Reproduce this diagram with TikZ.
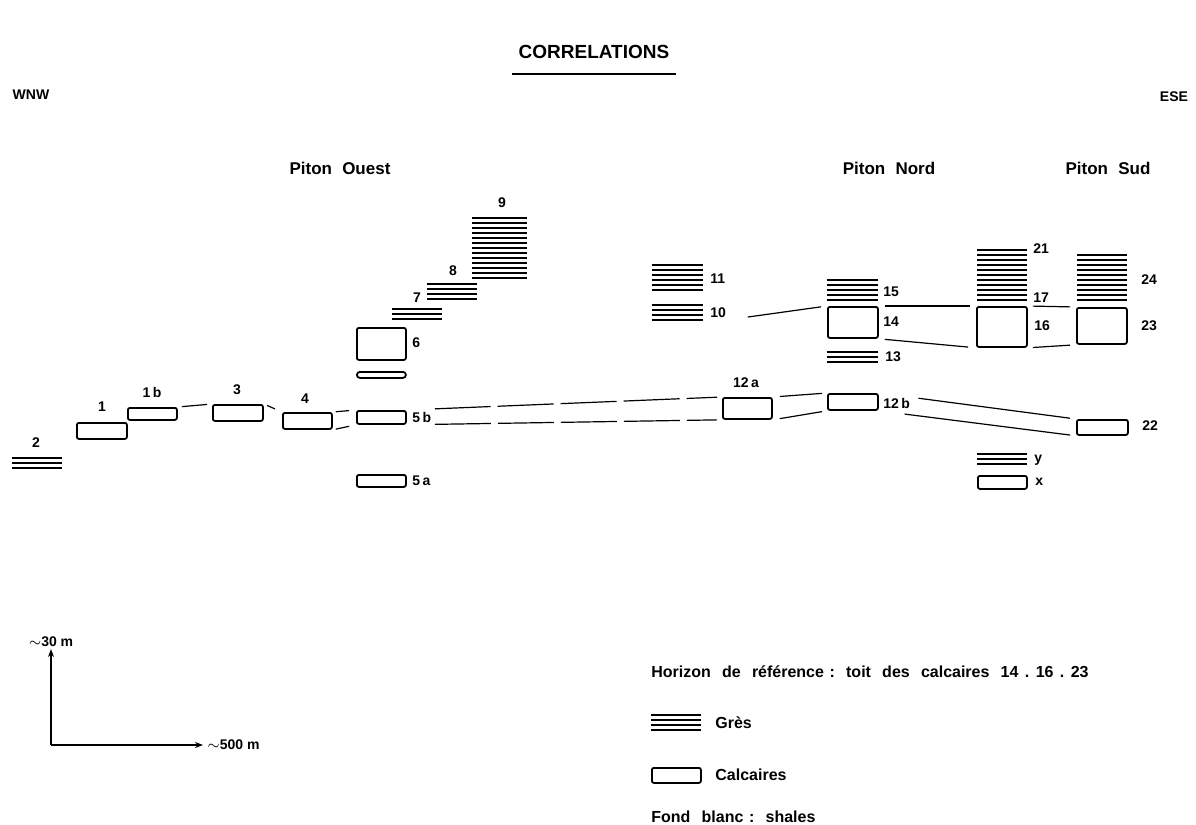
\documentclass[tikz,border=0pt]{standalone}
\usepackage{fontspec}
\setmainfont{Liberation Sans}
\usetikzlibrary{arrows.meta, positioning, calc}

\begin{document}
\begin{tikzpicture}[
        x=0.5pt, y=-0.5pt,
        font=\bfseries\fontsize{7}{8}\selectfont,
        calcaire/.style={
            rectangle,
            draw,
            line width=0.9pt,
            rounded corners=1pt,
            inner sep=0pt,
            anchor=north west
        },
        gresbox/.style={
            rectangle,
            inner sep=0pt,
            minimum width=24.5pt,
            anchor=north west
        },
        gresline/.style={line width=0.9pt},
        lien/.style={line width=0.6pt, shorten <=2pt, shorten >=2.5pt},
        lab/.style={anchor=west, inner sep=0pt},
        piton/.style={font=\bfseries\fontsize{8.5}{10}\selectfont},
        legende/.style={anchor=west, inner sep=0pt, font=\bfseries\fontsize{8}{9}\selectfont}
    ]
    \useasboundingbox (0,0) rectangle (1196,825);

    % Title and orientation
    \node[font=\bfseries\fontsize{9.5}{11}\selectfont] (title) at (594,52) {CORRELATIONS};
    \draw[line width=0.9pt] ([yshift=-4pt]title.south west) -- ([yshift=-4pt]title.south east);
    \node (wnw) at (31,95) {WNW};
    \node (ese) at (1174,97) {ESE};
    \node[piton] (pouest) at (340,168) {Piton\hspace{0.6em}Ouest};
    \node[piton] (pnord) at (889,168) {Piton\hspace{0.6em}Nord};
    \node[piton] (psud) at (1108,168) {Piton\hspace{0.6em}Sud};

    % Gres (sandstone) units: name / left / top / lines / width
    \foreach \nm/\x/\y/\n/\w in {u2/12/455.5/3/49, u7/392/306.5/3/49, u8/427/281.5/4/49,
            u9/472/215.5/13/54, u11/652/262.5/6/50, u10/652/302.5/4/50,
            u15/827/277.5/5/50, u13/827/349.5/3/50, u21/977/247.5/11/49,
            u24/1077/252.5/10/49, uy/977/451.5/3/49, legres/651/712.5/4/49} {
        \node[gresbox, minimum width=\w*0.5pt, minimum height=\n*2.5pt] (\nm) at (\x,\y) {};
        \foreach \k in {1,...,\n}
            \draw[gresline] ([yshift={-(\k-0.5)*2.5pt}]\nm.north west) -- ([yshift={-(\k-0.5)*2.5pt}]\nm.north east);
    }

    % Calcaire (limestone) units: name / left / top / right / bottom
    \foreach \nm/\xa/\ya/\xb/\yb in {u1/76/422/126/438, u1b/127/407/176/419, u3/212/404/262/420,
            u4/282/412/331/428, u5b/356/410/405/423, u5a/356/474/405/486, u6/356/327/405/359,
            u12a/722/397/771/418, u12b/827/393/877/409, u14/827/306/877/337,
            u16/976/306/1026/346, u23/1076/307/1126/343, u22/1076/419/1127/434,
            ux/977/475/1026/488, lecalc/651/767/700/782} {
        \node[calcaire, minimum width={(\xb-\xa)*0.5pt}, minimum height={(\yb-\ya)*0.5pt}] (\nm) at (\xa,\ya) {};
    }
    \node[calcaire, rounded corners=1.5pt, minimum width=24.5pt, minimum height=3pt] (uthin) at (356,371) {};

    % Unit labels
    \node (lab2) at (36,443) {2};
    \node (lab1) at (102,407) {1};
    \node (lab1b) at (152,392) {1\,b};
    \node (lab3) at (237,390) {3};
    \node (lab4) at (305,399) {4};
    \node[lab] (lab5b) at (412,417) {5\,b};
    \node[lab] (lab5a) at (412,481) {5\,a};
    \node[lab] (lab6) at (412,343) {6};
    \node (lab7) at (417,298) {7};
    \node (lab8) at (453,271) {8};
    \node (lab9) at (502,203) {9};
    \node[lab] (lab11) at (710,279) {11};
    \node[lab] (lab10) at (710,313) {10};
    \node (lab12a) at (746,383) {12\,a};
    \node[lab] (lab15) at (883,292) {15};
    \node[lab] (lab14) at (883,322) {14};
    \node[lab] (lab13) at (885,357) {13};
    \node[lab] (lab12b) at (883,403) {12\,b};
    \node[lab] (lab21) at (1033,249) {21};
    \node[lab] (lab17) at (1033,298) {17};
    \node[lab] (lab16) at (1034,326) {16};
    \node[lab] (lab24) at (1141,280) {24};
    \node[lab] (lab23) at (1141,326) {23};
    \node[lab] (lab22) at (1142,426) {22};
    \node[lab] (laby) at (1034,460) {y};
    \node[lab] (labx) at (1035,482) {x};

    % Correlation lines
    \draw[lien] (u1b.north east) -- (u3.north west);
    \draw[lien, shorten <=1.8pt, shorten >=3.8pt] (u3.north east) -- (u4.north west);
    \draw[lien, shorten <=1.5pt, shorten >=3.5pt] (u4.north east) -- (u5b.north west);
    \draw[lien, shorten <=1.5pt, shorten >=3.5pt] (u4.south east) -- (u5b.south west);
    \draw[lien, shorten <=14pt, dash pattern=on 28pt off 3.5pt] (u5b.north east) -- (u12a.north west);
    \draw[lien, shorten <=14pt, dash pattern=on 28pt off 3.5pt] (u5b.south east) -- (u12a.south west);
    \draw[lien, shorten <=3.5pt] (u12a.north east) -- (u12b.north west);
    \draw[lien, shorten <=3.5pt] (u12a.south east) -- (u12b.south west);
    \draw[lien, shorten <=22.7pt, shorten >=3pt] (u10.south east) -- (u14.north west);
    \draw[lien, shorten <=3pt, shorten >=3pt] (u14.north east) -- (u16.north west);
    \draw[lien, shorten <=3pt, shorten >=4pt] (u14.south east) -- (u16.south west);
    \draw[lien, shorten <=2.5pt, shorten >=3pt] (u16.north east) -- (u23.north west);
    \draw[lien, shorten <=2.5pt, shorten >=3pt] (u16.south east) -- (u23.south west);
    \draw[lien, shorten <=20pt, shorten >=3pt] (u12b.north east) -- (u22.north west);
    \draw[lien, shorten <=13pt, shorten >=3pt] (u12b.south east) -- (u22.south west);

    % Scale
    \coordinate (origin) at (51,745);
    \coordinate (vtop) at (51,649);
    \coordinate (hend) at (203,745);
    \draw[line width=0.9pt, -{Stealth[length=4pt, width=3pt]}] (origin) -- (vtop);
    \draw[line width=0.9pt, -{Stealth[length=4pt, width=3pt]}] (origin) -- (hend);
    \node[anchor=south, inner sep=1pt] (vscale) at (vtop) {$\sim$30 m};
    \node[anchor=west, inner sep=2pt] (hscale) at (hend) {$\sim$500 m};

    % Legend
    \node[legende] (horizon) at (651,672) {Horizon\hspace{0.7em}de\hspace{0.7em}référence\hspace{0.35em}:\hspace{0.7em}toit\hspace{0.7em}des\hspace{0.7em}calcaires\hspace{0.7em}14\hspace{0.4em}.\hspace{0.4em}16\hspace{0.4em}.\hspace{0.4em}23};
    \node[legende] (lgres) at (715,723) {Grès};
    \node[legende] (lcalc) at (715,775) {Calcaires};
    \node[legende] (lfond) at (651,817) {Fond\hspace{0.7em}blanc\hspace{0.35em}:\hspace{0.7em}shales};

\end{tikzpicture}
\end{document}
